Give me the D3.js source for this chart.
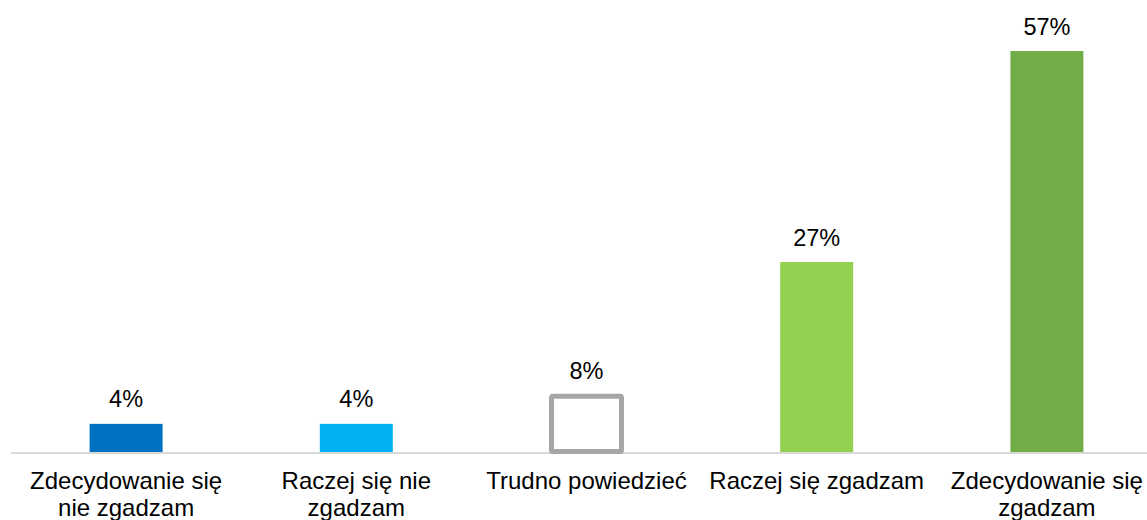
<!DOCTYPE html>
<meta charset="utf-8">
<style>
body { margin: 0; background: #fff; }
text { font-family: "Liberation Sans", Arial, sans-serif; fill: #000; }
</style>
<body>
<script src="https://d3js.org/d3.v7.min.js"></script>
<script>
// categories and values
var categories = ["Zdecydowanie się nie zgadzam", "Raczej się nie zgadzam", "Trudno powiedzieć", "Raczej się zgadzam", "Zdecydowanie się zgadzam"];
var values = [4, 4, 8, 27, 57];
var colors = ["#0070c0", "#00b0f0", "none", "#92d050", "#70ad47"];

var width = 1147, height = 520;
var baseline = 452;

var svg = d3.select("body").append("svg")
    .attr("width", width)
    .attr("height", height);

var x = d3.scaleBand()
    .domain(categories)
    .range([11, 1162])
    .paddingInner(0.683)
    .paddingOuter(0.3415);

var y = d3.scaleLinear()
    .domain([0, 57])
    .range([baseline, 51]);

var data = categories.map(function(c, i) {
  return {cat: c, value: values[i], color: colors[i]};
});

// axis line
svg.append("line")
    .attr("x1", 11).attr("x2", width)
    .attr("y1", baseline + 1).attr("y2", baseline + 1)
    .attr("stroke", "#d9d9d9")
    .attr("stroke-width", 2);

// bars
svg.selectAll("rect.bar")
  .data(data)
  .enter().append("rect")
    .attr("class", "bar")
    .attr("x", function(d) { return d.color == "none" ? x(d.cat) + 1.5 : x(d.cat); })
    .attr("width", function(d) { return d.color == "none" ? x.bandwidth() - 3 : x.bandwidth(); })
    .attr("y", function(d) { return d.color == "none" ? y(d.value) + 0.5 : y(d.value); })
    .attr("height", function(d) { return d.color == "none" ? baseline - y(d.value) - 1 : baseline - y(d.value); })
    .attr("fill", function(d) { return d.color == "none" ? "#fff" : d.color; })
    .attr("stroke", function(d) { return d.color == "none" ? "#a6a6a6" : null; })
    .attr("stroke-width", function(d) { return d.color == "none" ? 5 : null; })
    .attr("rx", function(d) { return d.color == "none" ? 1.5 : 0; });

// value labels
svg.selectAll("text.val")
  .data(data)
  .enter().append("text")
    .attr("class", "val")
    .attr("x", function(d) { return x(d.cat) + x.bandwidth() / 2; })
    .attr("y", function(d) { return y(d.value) - 16.5; })
    .attr("text-anchor", "middle")
    .style("font-size", "23.5px")
    .text(function(d) { return d.value + "%"; });

// category labels, wrapped
var cats = svg.selectAll("text.cat")
  .data(data)
  .enter().append("text")
    .attr("class", "cat")
    .attr("x", function(d) { return x(d.cat) + x.bandwidth() / 2; })
    .attr("y", 489)
    .attr("text-anchor", "middle")
    .style("font-size", "24px");

cats.each(function(d) {
  var t = d3.select(this);
  var cx = x(d.cat) + x.bandwidth() / 2;
  var words = d.cat.split(" ");
  var lines = [], line = [];
  var tmp = t.append("tspan");
  words.forEach(function(w) {
    line.push(w);
    tmp.text(line.join(" "));
    if (tmp.node().getComputedTextLength() > 220 && line.length > 1) {
      line.pop();
      lines.push(line.join(" "));
      line = [w];
    }
  });
  lines.push(line.join(" "));
  tmp.remove();
  lines.forEach(function(l, i) {
    t.append("tspan")
      .attr("x", cx)
      .attr("dy", i == 0 ? 0 : 27)
      .text(l);
  });
});
</script>
</body>
